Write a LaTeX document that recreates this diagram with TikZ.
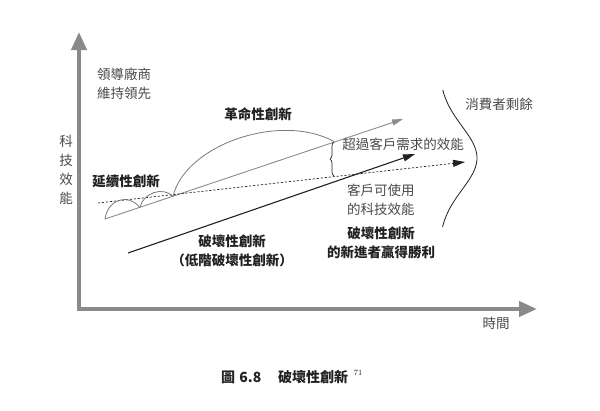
\documentclass[tikz,border=0pt]{standalone}
\usepackage{fontspec}
\setmainfont{Noto Sans CJK TC}
\newfontfamily\lmfont{Latin Modern Roman}
\usetikzlibrary{arrows.meta,decorations.pathreplacing}
\definecolor{axisgray}{HTML}{8A8A8A}
\definecolor{linegray}{HTML}{8C8C8C}
\definecolor{arcgray}{HTML}{7A7A7A}
\definecolor{labelgray}{HTML}{4A4A4A}
\definecolor{darktext}{HTML}{222222}
\begin{document}
\begin{tikzpicture}[x=1pt,y=-1pt,
  lbl/.style={inner sep=0pt, text=labelgray, font=\fontsize{13.5}{19}\selectfont},
  blbl/.style={inner sep=0pt, text=darktext, font=\fontsize{13.5}{19}\selectfont\bfseries},
  axisline/.style={draw=axisgray, line width=4pt, {Triangle[length=18pt,width=15pt]}-{Triangle[length=18pt,width=15pt]}},
  grayline/.style={draw=linegray, line width=0.9pt, -{Triangle[length=11pt,width=6pt]}},
  blackline/.style={draw=darktext, line width=1.1pt, -{Triangle[length=12pt,width=7pt]}},
  dashline/.style={draw=darktext, line width=0.7pt, dash pattern=on 2.2pt off 1.8pt, -{Triangle[length=12pt,width=7pt,fill=darktext]}},
  arcline/.style={draw=arcgray, line width=0.8pt},
  bracestyle/.style={draw=darktext, line width=0.7pt, decorate, decoration={brace, amplitude=4pt}}
]
\fill[white] (0,0) rectangle (600,410);
\useasboundingbox (0,0) rectangle (600,410);

% axes
\coordinate (ytip) at (79,32);
\coordinate (orig) at (79,309);
\coordinate (xtip) at (537,309);
\draw[axisline] (ytip) -- (orig) -- (xtip);

% trajectory coordinates
\coordinate (g0) at (105,219);
\coordinate (g1) at (403,119);
\coordinate (d0) at (98,203);
\coordinate (d1) at (465,162);
\coordinate (b0) at (128,253);
\coordinate (b1) at (415,154);
\coordinate (p1) at (140,207.5);
\coordinate (p2) at (173,196.5);
\coordinate (p3) at (334,141.5);
\coordinate (brtop) at (334,142);
\coordinate (brbot) at (334,176);

\draw[grayline] (g0) -- (g1);
\draw[dashline] (d0) -- (d1);
\draw[blackline] (b0) -- (b1);

% arcs of sustaining innovation
\draw[arcline] (g0) .. controls (108,199) and (128,193) .. (p1);
\draw[arcline] (p1) .. controls (143,193) and (163,186) .. (p2);
\draw[arcline] (p2) .. controls (185,145) and (280,112) .. (p3);

% brace
\draw[bracestyle] (brbot) -- (brtop);

% consumer surplus curve
\draw[draw=darktext, line width=0.8pt] plot[smooth, domain=90:227, samples=40, variable=\t] ({439+38*exp(-((\t-158)*(\t-158))/2010)}, \t);

% labels
\node[lbl, align=center] (yl) at (66,170) {\fontsize{13.5}{14.2}\selectfont 科\\技\\效\\能};
\node[lbl, align=left, anchor=west] (lead) at (97,83.5) {領導廠商\\維持領先};
\node[blbl] (sust) at (126,181) {延續性創新};
\node[blbl] (revo) at (258,114) {革命性創新};
\node[lbl] (over) at (403,144) {超過客戶需求的效能};
\node[lbl, align=left, anchor=west] (cust) at (347,200) {客戶可使用\\的科技效能};
\node[lbl] (surp) at (499,104) {消費者剩餘};
\node[blbl, align=center] (disr) at (232,251) {破壞性創新\\（低階破壞性創新）};
\node[blbl, align=center] (win) at (381,243) {\fontsize{13.5}{20}\selectfont 破壞性創新\\的新進者贏得勝利};
\node[lbl] (time) at (496,323) {時間};
\node[inner sep=0pt, anchor=west, text=darktext, font=\fontsize{14}{18}\selectfont\bfseries] (cap) at (221,377) {圖\hspace{0.3em}6.8\hspace{1.2em}破壞性創新\hspace{0.4em}\raisebox{0.55em}{\lmfont\mdseries\fontsize{8}{9}\selectfont 71}};
\end{tikzpicture}
\end{document}
